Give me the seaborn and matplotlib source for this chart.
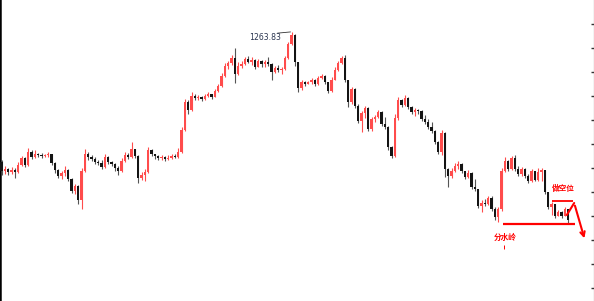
import numpy as np
import pandas as pd
import matplotlib
matplotlib.use("Agg")
import matplotlib.pyplot as plt
import seaborn as sns

# ---------------- data (prices) ----------------
first_open = 1198.8
closes = [
    1194.3, 1195.3, 1193.8, 1194.8, 1193.8, 1197.3, 1200.8, 1197.3, 1203.8, 1201.3,
    1202.8, 1202.3, 1201.8, 1202.3, 1202.8, 1198.3, 1194.8, 1191.8, 1193.3, 1194.8,
    1190.3, 1184.3, 1186.8, 1179.8, 1194.3, 1202.8, 1201.3, 1200.3, 1198.8, 1198.3,
    1196.3, 1201.3, 1198.8, 1197.8, 1195.8, 1194.3, 1199.3, 1202.3, 1201.3, 1205.3,
    1201.8, 1190.8, 1192.3, 1193.8, 1204.8, 1202.8, 1201.8, 1200.8, 1201.3, 1200.3,
    1200.8, 1201.8, 1201.3, 1203.8, 1214.8, 1228.8, 1224.8, 1231.8, 1230.8, 1231.3,
    1230.3, 1231.8, 1232.8, 1231.3, 1234.3, 1236.8, 1241.8, 1246.8, 1248.3, 1250.8,
    1242.8, 1246.8, 1247.8, 1250.3, 1248.8, 1249.8, 1246.3, 1249.3, 1247.8, 1248.8,
    1247.8, 1243.8, 1245.8, 1244.8, 1245.3, 1250.8, 1257.8, 1262.3, 1248.8, 1235.8,
    1238.8, 1237.8, 1238.8, 1239.8, 1237.8, 1240.8, 1241.8, 1238.8, 1234.3, 1239.8,
    1244.8, 1248.3, 1250.8, 1239.8, 1228.8, 1235.3, 1226.8, 1219.3, 1223.3, 1225.8,
    1215.3, 1220.3, 1221.3, 1223.8, 1217.8, 1216.3, 1206.3, 1201.8, 1220.8, 1229.8,
    1227.3, 1230.8, 1226.3, 1223.8, 1224.8, 1224.3, 1220.3, 1218.8, 1216.3, 1214.3,
    1208.8, 1203.8, 1213.3, 1195.3, 1191.8, 1194.3, 1196.8, 1197.8, 1194.3, 1191.3,
    1193.3, 1186.3, 1185.3, 1176.8, 1178.3, 1177.8, 1180.8, 1175.3, 1171.3, 1175.3,
    1194.3, 1199.3, 1195.3, 1200.8, 1195.3, 1192.8, 1195.3, 1191.8, 1189.3, 1194.3,
    1189.8, 1193.8, 1194.8, 1183.8, 1176.3, 1177.8, 1171.8, 1173.8, 1171.8, 1175.3,
    1169.8,
]
highs = [
    1199.8, 1196.8, 1195.8, 1196.3, 1195.8, 1198.8, 1201.8, 1201.3, 1205.8, 1204.8,
    1204.8, 1203.3, 1203.3, 1202.8, 1203.8, 1202.8, 1198.8, 1195.3, 1194.3, 1196.8,
    1195.3, 1190.8, 1187.8, 1187.3, 1195.8, 1205.3, 1203.8, 1202.3, 1201.3, 1199.8,
    1199.8, 1202.8, 1201.8, 1199.3, 1198.3, 1196.8, 1200.8, 1203.8, 1203.3, 1208.8,
    1205.3, 1202.3, 1193.8, 1195.3, 1206.3, 1205.3, 1202.8, 1202.3, 1202.3, 1201.8,
    1202.3, 1202.8, 1202.8, 1205.8, 1216.3, 1230.3, 1229.8, 1233.8, 1232.8, 1232.3,
    1231.8, 1232.8, 1233.8, 1232.8, 1235.3, 1237.8, 1243.3, 1248.3, 1249.3, 1252.3,
    1255.8, 1248.8, 1249.3, 1251.3, 1251.8, 1251.3, 1250.3, 1250.3, 1249.8, 1249.8,
    1251.3, 1248.3, 1246.8, 1247.3, 1246.3, 1251.8, 1258.8, 1263.83, 1262.8, 1248.8,
    1239.8, 1239.3, 1239.3, 1240.8, 1240.3, 1241.8, 1242.8, 1242.3, 1238.8, 1241.3,
    1246.3, 1249.3, 1251.8, 1252.3, 1239.8, 1236.3, 1235.8, 1227.8, 1224.3, 1226.8,
    1226.3, 1221.3, 1222.3, 1224.8, 1224.3, 1221.3, 1216.8, 1206.8, 1222.8, 1231.3,
    1230.3, 1232.3, 1231.3, 1226.8, 1225.8, 1225.3, 1224.8, 1222.3, 1220.3, 1218.8,
    1214.8, 1209.3, 1214.8, 1213.8, 1195.8, 1195.8, 1198.3, 1199.3, 1198.3, 1194.3,
    1194.8, 1193.8, 1190.3, 1185.3, 1179.8, 1180.3, 1181.8, 1181.8, 1176.3, 1176.3,
    1195.8, 1201.3, 1199.8, 1201.8, 1202.3, 1196.8, 1196.3, 1195.8, 1192.8, 1195.3,
    1194.3, 1195.8, 1195.8, 1194.8, 1183.8, 1178.8, 1177.8, 1174.8, 1174.3, 1176.3,
    1175.3,
]
lows = [
    1192.3, 1192.8, 1192.3, 1192.8, 1190.8, 1193.3, 1196.8, 1196.3, 1196.8, 1200.3,
    1200.8, 1201.3, 1200.8, 1201.3, 1201.3, 1197.3, 1193.3, 1190.8, 1190.3, 1191.8,
    1189.3, 1183.3, 1182.8, 1177.8, 1175.3, 1193.8, 1199.8, 1199.3, 1197.8, 1197.3,
    1195.3, 1195.8, 1197.8, 1196.8, 1194.3, 1192.3, 1193.8, 1198.8, 1200.3, 1200.8,
    1200.8, 1188.3, 1189.8, 1189.3, 1193.3, 1201.8, 1200.3, 1199.8, 1199.8, 1199.3,
    1199.8, 1200.3, 1200.8, 1200.8, 1203.3, 1214.3, 1222.8, 1224.3, 1229.8, 1229.8,
    1229.3, 1229.8, 1231.3, 1230.3, 1231.3, 1233.8, 1236.3, 1241.3, 1245.3, 1247.3,
    1238.3, 1242.3, 1245.8, 1247.3, 1248.3, 1247.3, 1245.3, 1246.3, 1246.3, 1246.3,
    1246.8, 1239.8, 1243.3, 1243.8, 1242.8, 1244.8, 1250.3, 1257.3, 1246.8, 1233.8,
    1234.8, 1236.8, 1237.8, 1237.8, 1236.8, 1237.3, 1240.3, 1237.8, 1233.3, 1233.8,
    1239.8, 1244.3, 1247.8, 1238.8, 1226.3, 1227.8, 1225.8, 1218.3, 1213.8, 1220.8,
    1214.3, 1214.3, 1218.8, 1220.8, 1216.8, 1215.3, 1204.8, 1200.8, 1201.3, 1219.8,
    1226.3, 1226.8, 1225.3, 1222.8, 1221.8, 1222.8, 1219.3, 1217.8, 1215.3, 1213.3,
    1207.8, 1202.8, 1202.3, 1191.3, 1186.3, 1190.8, 1193.8, 1195.3, 1193.3, 1190.3,
    1190.8, 1185.3, 1184.3, 1175.8, 1173.8, 1176.8, 1177.3, 1174.3, 1169.8, 1168.8,
    1174.3, 1193.8, 1194.3, 1194.8, 1194.3, 1191.8, 1191.8, 1190.8, 1188.3, 1188.8,
    1189.3, 1189.3, 1189.3, 1182.8, 1175.3, 1172.3, 1170.8, 1171.8, 1170.8, 1171.8,
    1168.3,
]
high_label = "1263.83"
support_label = "分水岭"
short_label = "做空位"
support_level = 1167.8
short_level = 1179.3

# ---------------- build table ----------------
df = pd.DataFrame({"close": closes, "high": highs, "low": lows})
df["open"] = [first_open] + closes[:-1]
df["i"] = np.arange(len(df))
df["high"] = df[["high", "open", "close"]].max(axis=1)
df["low"] = df[["low", "open", "close"]].min(axis=1)
df["up"] = df["close"] >= df["open"]

sns.set_style("white")
plt.rcParams["font.family"] = ["DejaVu Sans"]

RED = "#ff4c4c"
BLACK = "#141414"

fig = plt.figure(figsize=(5.94, 3.01), dpi=100)
ax = fig.add_axes([0.0, 0.0, 593.5 / 594, 1.0])

wick_colors = np.where(df["up"], RED, "#555555")
body_colors = np.where(df["up"], RED, BLACK)
ax.vlines(df["i"], df["low"], df["high"], colors=wick_colors, linewidth=0.8, zorder=2)
body_bottom = df[["open", "close"]].min(axis=1)
body_height = (df["close"] - df["open"]).abs().clip(lower=0.45)
ax.bar(df["i"], body_height, bottom=body_bottom, width=0.68,
       color=body_colors, linewidth=0, zorder=3)

# axes limits / spines / ticks
ax.set_xlim(-0.45, 177.6)
ax.set_ylim(1279.8 - 301 / 2, 1279.8)
for s in ["top", "bottom"]:
    ax.spines[s].set_visible(False)
ax.spines["left"].set_color("#000000")
ax.spines["left"].set_linewidth(1.8)
ax.spines["right"].set_color("#333333")
ax.spines["right"].set_linewidth(0.8)
ax.set_xticks([])
ax.set_yticks(1267.8 - 12 * np.arange(12))
ax.tick_params(axis="y", left=False, right=True, labelleft=False, labelright=False,
               direction="in", length=2.2, width=1.0, color="#333333")
ax.set_facecolor("white")

# high label
imax = int(df["high"].idxmax())
ax.plot([imax - 4.2, imax - 0.3], [df["high"][imax] - 0.6, df["high"][imax]],
        color="#333333", linewidth=0.6, zorder=4)
ax.text(imax - 8.0, df["high"][imax] - 3.0, high_label, fontsize=5.6,
        color="#2a3550", ha="center", va="center", zorder=5)

# support line (分水岭)
cjk = ["Noto Sans CJK SC", "DejaVu Sans"]
ax.hlines(support_level, 150.4, 172.0, colors="red", linewidth=1.6, zorder=5)
ax.text(151.0, 1161.3, support_label, family=cjk, fontsize=5.5, fontweight="bold",
        color="red", ha="center", va="center", zorder=5)
ax.vlines(150.8, 1155.3, 1157.3, colors="red", linewidth=0.7, zorder=5)

# short level (做空位)
ax.hlines(short_level, 165.1, 171.4, colors="red", linewidth=1.3, zorder=5)
ax.text(168.7, 1185.5, short_label, family=cjk, fontsize=5.5, fontweight="bold",
        color="red", ha="center", va="center", zorder=5)

# zig-zag arrow
ax.plot([169.6, 171.8], [1172.3, 1178.3], color="red", linewidth=1.5,
        solid_capstyle="round", zorder=6)
ax.annotate("", xy=(175.1, 1159.3), xytext=(171.8, 1178.3),
            arrowprops=dict(arrowstyle="->", color="red", lw=1.5, mutation_scale=8),
            zorder=6)

fig.savefig("out.png", dpi=100, facecolor="white")
